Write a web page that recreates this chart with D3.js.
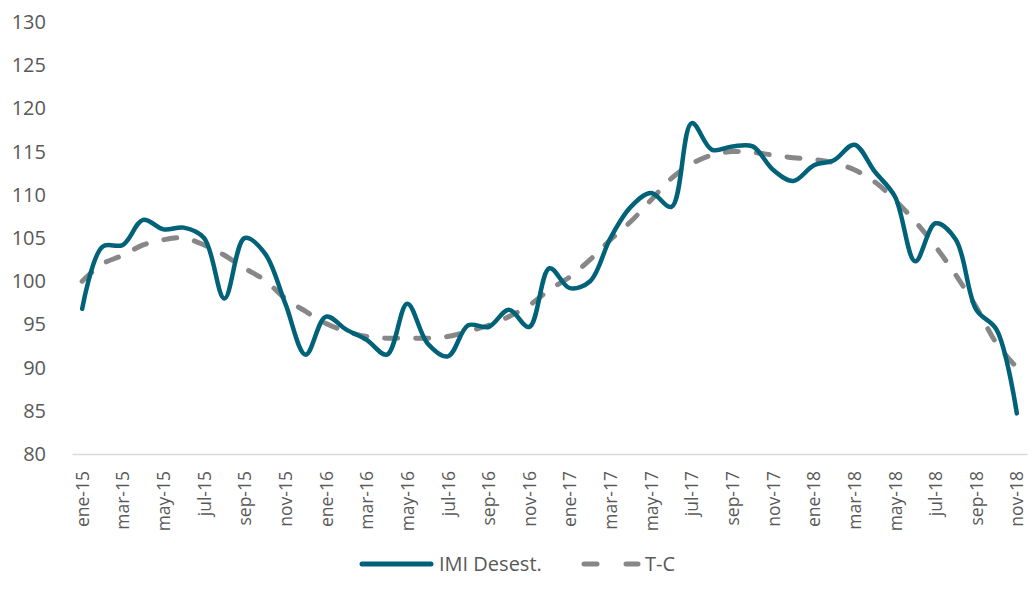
<!DOCTYPE html>
<html>
<head>
<meta charset="utf-8">
<script src="https://cdn.jsdelivr.net/npm/d3@7"></script>
<style>
  body { margin: 0; background: #fff; }
  svg { display: block; font-family: "Open Sans", "Noto Sans", sans-serif; }
</style>
</head>
<body>
<svg id="chart"></svg>
<script>
const months = ['ene', 'feb', 'mar', 'abr', 'may', 'jun', 'jul', 'ago', 'sep', 'oct', 'nov', 'dic'];
const categories = [];
for (let y = 15; y <= 18; y++) {
  months.forEach((m, i) => {
    if (y === 18 && i > 10) return;
    categories.push(`${m}-${y}`);
  });
}

const imi = [
  96.8, 104.0, 104.2, 107.1, 106.0, 106.2, 105.0, 98.0, 105.0, 103.2, 97.4, 91.5,
  95.9, 94.4, 93.2, 91.5, 97.4, 92.8, 91.3, 94.9, 94.7, 96.7, 94.7, 101.5,
  99.2, 100.0, 105.0, 108.6, 110.2, 108.6, 118.3, 115.2, 115.6, 115.6, 112.9, 111.6,
  113.4, 114.0, 115.8, 112.7, 109.8, 102.3, 106.7, 104.8, 96.7, 94.4, 84.7
];

const tc = [
  100.0, 102.0, 103.0, 104.2, 104.8, 105.0, 104.2, 103.0, 101.5, 100.1, 98.0, 96.5,
  95.1, 94.2, 93.6, 93.4, 93.4, 93.4, 93.6, 94.2, 94.9, 95.9, 97.2, 99.0,
  100.5, 102.5, 104.8, 106.9, 109.4, 111.9, 113.6, 114.6, 115.0, 114.9, 114.6, 114.3,
  114.1, 113.7, 112.9, 111.5, 109.4, 106.9, 104.0, 100.7, 97.0, 92.8, 90.0
];

const yTicks = [80, 85, 90, 95, 100, 105, 110, 115, 120, 125, 130];

const width = 1032, height = 602;
const margin = { top: 22, right: 5, bottom: 148, left: 72 };

const svg = d3.select('#chart').attr('width', width).attr('height', height);

const x = d3.scalePoint()
  .domain(categories)
  .range([margin.left, width - margin.right])
  .padding(0.5);

const y = d3.scaleLinear()
  .domain([80, 130])
  .range([height - margin.bottom, margin.top]);

// y axis labels (no line, no ticks)
svg.append('g')
  .attr('transform', `translate(${margin.left},0)`)
  .call(d3.axisLeft(y).tickValues(yTicks).tickSize(0).tickPadding(26))
  .call(g => g.select('.domain').remove())
  .selectAll('text')
  .style('font-size', '20px')
  .style('font-family', '"Open Sans", sans-serif')
  .attr('fill', '#595959');

// x axis
const xAxis = svg.append('g')
  .attr('transform', `translate(0,${height - margin.bottom})`)
  .call(d3.axisBottom(x).tickValues(categories.filter((d, i) => i % 2 === 0)).tickSize(0));

xAxis.select('.domain')
  .attr('stroke', '#d9d9d9')
  .attr('stroke-width', 1.5);

xAxis.selectAll('text')
  .style('font-size', '17.5px')
  .style('font-family', '"Open Sans", sans-serif')
  .attr('fill', '#595959')
  .attr('transform', 'rotate(-90)')
  .attr('text-anchor', 'end')
  .attr('dx', '-17px')
  .attr('dy', '0.35em')
  .attr('y', 0);

const line = d3.line()
  .x((d, i) => x(categories[i]))
  .y(d => y(d))
  .curve(d3.curveCatmullRom.alpha(0.5));

svg.append('path')
  .datum(tc)
  .attr('fill', 'none')
  .attr('stroke', '#878787')
  .attr('stroke-width', 5)
  .attr('stroke-dasharray', '13,18')
  .attr('stroke-linecap', 'round')
  .attr('d', line);

svg.append('path')
  .datum(imi)
  .attr('fill', 'none')
  .attr('stroke', '#006278')
  .attr('stroke-width', 4.5)
  .attr('stroke-linecap', 'round')
  .attr('stroke-linejoin', 'round')
  .attr('d', line);

// legend
const legend = svg.append('g').attr('transform', 'translate(0,564)');
legend.append('line')
  .attr('x1', 362).attr('x2', 431).attr('y1', 0).attr('y2', 0)
  .attr('stroke', '#006278').attr('stroke-width', 5).attr('stroke-linecap', 'round');
legend.append('text')
  .attr('x', 439).attr('y', 0).attr('dy', '0.35em')
  .style('font-size', '20px').attr('fill', '#595959')
  .text('IMI Desest.');
legend.append('line')
  .attr('x1', 584).attr('x2', 638).attr('y1', 0).attr('y2', 0)
  .attr('stroke', '#878787').attr('stroke-width', 5)
  .attr('stroke-dasharray', '13,29').attr('stroke-linecap', 'round');
legend.append('text')
  .attr('x', 645).attr('y', 0).attr('dy', '0.35em')
  .style('font-size', '20px').attr('fill', '#595959')
  .text('T-C');
</script>
</body>
</html>
